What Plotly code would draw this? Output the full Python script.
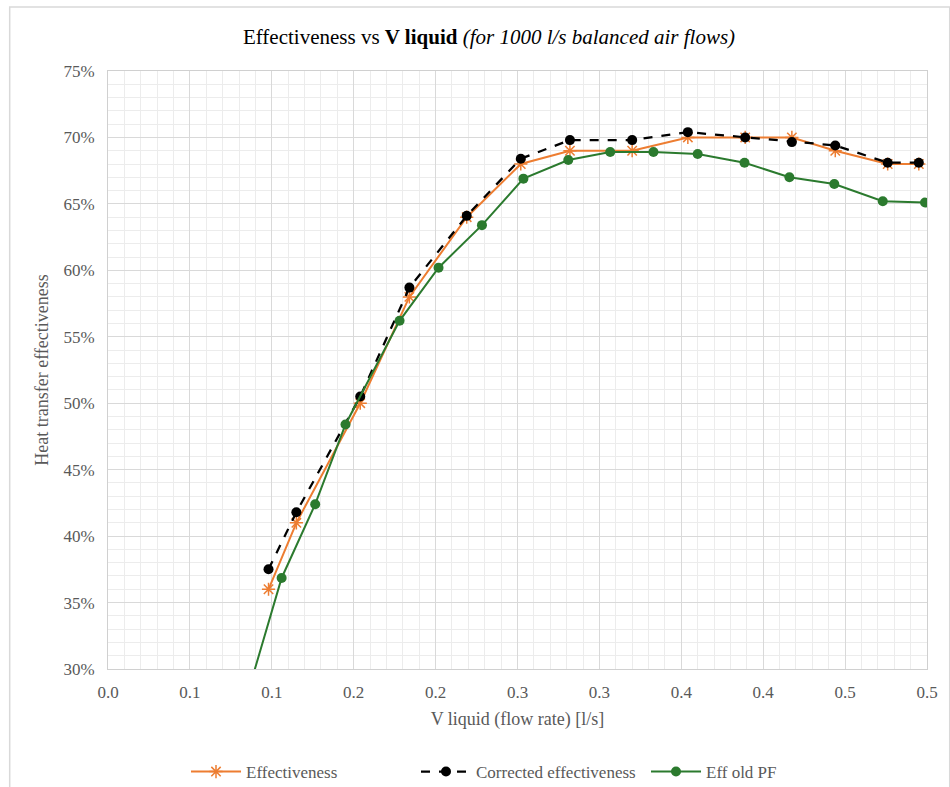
import plotly.graph_objects as go

# Flow rate (l/s) and effectiveness (%) for the two coupled series
v_liquid = [0.098, 0.115, 0.154, 0.184, 0.219, 0.252, 0.282, 0.320, 0.354, 0.389, 0.4175, 0.444, 0.476, 0.495]
effectiveness = [36.0, 41.0, 50.0, 58.0, 64.0, 68.0, 69.0, 69.0, 70.0, 70.0, 70.0, 69.0, 68.0, 68.0]
corrected_eff = [37.5, 41.8, 50.5, 58.7, 64.1, 68.4, 69.8, 69.8, 70.4, 70.0, 69.65, 69.4, 68.1, 68.1]

# Old plate-fin data set
v_liquid_old = [0.083, 0.106, 0.1265, 0.145, 0.178, 0.2018, 0.2283, 0.2536, 0.281, 0.3066, 0.333, 0.360, 0.3886, 0.416, 0.4434, 0.473, 0.4988]
eff_old_pf = [27.2, 36.85, 42.4, 48.4, 56.2, 60.2, 63.4, 66.9, 68.3, 68.9, 68.9, 68.75, 68.1, 67.0, 66.5, 65.2, 65.1]

x_tickvals = [0.0, 0.05, 0.1, 0.15, 0.2, 0.25, 0.3, 0.35, 0.4, 0.45, 0.5]
x_ticktext = ["0.0", "0.1", "0.1", "0.2", "0.2", "0.3", "0.3", "0.4", "0.4", "0.5", "0.5"]
y_tickvals = [30, 35, 40, 45, 50, 55, 60, 65, 70, 75]
y_ticktext = ["30%", "35%", "40%", "45%", "50%", "55%", "60%", "65%", "70%", "75%"]

ORANGE = "#ED7D31"
GREEN = "#2B7A2E"
TXT = "#595959"
SERIF = "Liberation Serif, Times New Roman, serif"

fig = go.Figure()
fig.add_trace(go.Scatter(
    x=v_liquid, y=effectiveness, name="Effectiveness", mode="lines+markers",
    line=dict(color=ORANGE, width=2),
    marker=dict(symbol="asterisk-open", size=11, color=ORANGE, line=dict(color=ORANGE, width=1.5)),
))
fig.add_trace(go.Scatter(
    x=v_liquid, y=corrected_eff, name="Corrected effectiveness", mode="lines+markers",
    line=dict(color="black", width=2.25, dash="dash"),
    marker=dict(symbol="circle", size=10, color="black"),
))
fig.add_trace(go.Scatter(
    x=v_liquid_old, y=eff_old_pf, name="Eff old PF", mode="lines+markers",
    line=dict(color=GREEN, width=2),
    marker=dict(symbol="circle", size=10, color=GREEN),
))

grid_major = "#d9d9d9"
grid_minor = "#ececec"

fig.update_layout(
    width=950, height=787,
    margin=dict(l=108, r=13, t=71, b=118),
    paper_bgcolor="white", plot_bgcolor="white",
    font=dict(family=SERIF, color=TXT, size=17),
    title=dict(
        text="Effectiveness vs <b>V liquid</b> <i>(for 1000 l/s balanced air flows)</i>",
        x=489 / 950, xanchor="center", xref="container",
        y=1 - 37 / 787, yanchor="middle", yref="container",
        font=dict(family=SERIF, size=21, color="black"),
    ),
    xaxis=dict(
        range=[0, 0.5], tickvals=x_tickvals, ticktext=x_ticktext,
        showgrid=True, gridcolor=grid_major, gridwidth=1,
        minor=dict(dtick=0.01, showgrid=True, gridcolor=grid_minor, gridwidth=1),
        showline=True, linecolor="#d0d0d0", mirror=True, zeroline=False,
        ticks="", ticklabelstandoff=8, tickfont=dict(family=SERIF, size=17, color=TXT),
        title=dict(text="V liquid (flow rate) [l/s]", font=dict(family=SERIF, size=18, color=TXT), standoff=10),
    ),
    yaxis=dict(
        range=[30, 75], tickvals=y_tickvals, ticktext=y_ticktext,
        showgrid=True, gridcolor=grid_major, gridwidth=1,
        minor=dict(dtick=1, showgrid=True, gridcolor=grid_minor, gridwidth=1),
        showline=True, linecolor="#d0d0d0", mirror=True, zeroline=False,
        ticks="", ticklabelstandoff=9, tickfont=dict(family=SERIF, size=17, color=TXT),
        title=dict(text="Heat transfer effectiveness", font=dict(family=SERIF, size=18, color=TXT), standoff=10),
    ),
    legend=dict(
        orientation="h", x=186 / 950, xanchor="left", xref="container",
        y=1 - 772 / 787, yanchor="middle", yref="container",
        font=dict(family=SERIF, size=17, color=TXT),
        itemwidth=50, entrywidth=165, entrywidthmode="pixels",
        bgcolor="rgba(0,0,0,0)",
    ),
    showlegend=True,
)

# Outer chart frame (left and top edges visible)
fig.add_shape(
    type="rect", xref="paper", yref="paper",
    x0=(8.5 - 108) / 829, x1=(960 - 108) / 829,
    y0=(669 - 800) / 598, y1=(669 - 7) / 598,
    line=dict(color="#d9d9d9", width=1.5), fillcolor="rgba(0,0,0,0)", layer="below",
)

fig.write_html("out.html")
